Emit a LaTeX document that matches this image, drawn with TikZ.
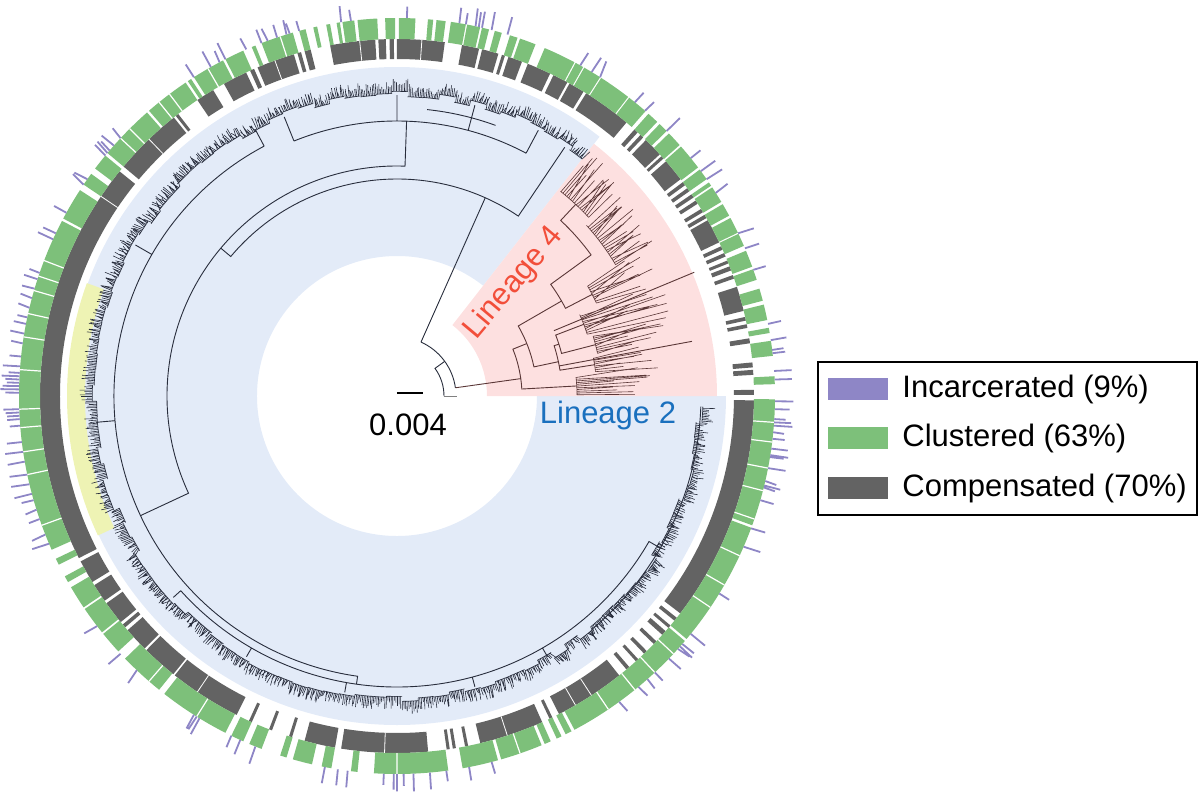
\documentclass[tikz,border=0pt]{standalone}
\usepackage{fontspec}
\setmainfont{Liberation Sans}
\definecolor{lintwo}{RGB}{227,235,248}
\definecolor{linfour}{RGB}{253,224,224}
\definecolor{yelband}{RGB}{238,243,180}
\definecolor{compgrey}{RGB}{99,99,99}
\definecolor{clustgreen}{RGB}{125,192,122}
\definecolor{incpurple}{RGB}{142,134,198}
\definecolor{labfour}{RGB}{242,78,58}
\definecolor{labtwo}{RGB}{26,112,190}
\definecolor{treeink}{RGB}{40,45,60}
\definecolor{fourink}{RGB}{90,55,55}
% annular sector as a path piece: start angle, end angle, inner r, outer r
\newcommand{\segpath}[4]{(#1:#3) arc[start angle=#1,end angle=#2,radius=#3]
    -- (#2:#4) arc[start angle=#2,end angle=#1,radius=#4] -- cycle}
\tikzset{
  branch/.style={treeink,line width=0.45pt},
  leaf/.style={treeink,line width=0.3pt},
  fourbranch/.style={fourink,line width=0.45pt},
  fourleaf/.style={fourink,line width=0.3pt},
  tick/.style={incpurple,line width=0.9pt},
  lbl/.style={font=\fontsize{15.5}{18}\selectfont,inner sep=0pt},
  swatch/.style={minimum width=30pt,minimum height=11pt,inner sep=0pt}
}
\begin{document}
\begin{tikzpicture}[x=0.5pt,y=0.5pt]
  \useasboundingbox (-397,-398) rectangle (803,396);
  % backgrounds of the two lineages
  \fill[lintwo] \segpath{52}{360}{140}{329};
  \fill[linfour] \segpath{0}{52}{90}{320};
  \fill[yelband] \segpath{160}{205}{312}{330};
  % root
  \draw[branch] (0:47) arc[start angle=0,end angle=36,radius=47] -- (36:59);
  \draw[gray,line width=0.45pt] (0:47) -- (0:60);
  \draw[branch] (8:59) arc[start angle=8,end angle=66,radius=59];
  % lineage 2 backbone
  \draw[branch] (66:59) -- (66:217);
  \draw[branch] (56:300) -- (56:217) arc[start angle=56,end angle=140,radius=217]
    -- (140:230);
  \draw[branch] (88:275) -- (88:230) arc[start angle=88,end angle=205,radius=230]
    -- (205:283);
  \draw[branch] (62:275) arc[start angle=62,end angle=112,radius=275]
    \foreach \a in {62,75,90,112}{ (\a:275) -- (\a:301) };
  \draw[branch] (70:288) arc[start angle=70,end angle=84,radius=288];
  \draw[branch] (118:283) arc[start angle=118,end angle=262,radius=283] -- (262:291)
    \foreach \a in {118,150,185}{ (\a:283) -- (\a:302) };
  \draw[branch] (222:291) arc[start angle=222,end angle=330,radius=291] -- (330:304)
    \foreach \a in {222,240,260,285,300}{ (\a:291) -- (\a:301) };
  \draw[branch] (310:304) arc[start angle=310,end angle=358,radius=304];
  % lineage 2 tips
  \pgfmathsetseed{42}
  \foreach \lo in {52,55,...,357}{
    \pgfmathsetmacro\rb{299+7*rnd}
    \pgfmathsetmacro\hi{\lo+3}
    \pgfmathsetmacro\nx{\lo+0.3}
    \draw[leaf] (\lo:\rb) arc[start angle=\lo,end angle=\hi,radius=\rb]
      \foreach \a in {\lo,\nx,...,\hi}{ (\a:\rb) -- (\a:{\rb+4+9*rnd}) };
  }
  % lineage 4
  \draw[fourbranch] (8:59) -- (8:125);
  \draw[fourbranch] (3.2:180) -- (3.2:125) arc[start angle=3.2,end angle=22,radius=125]
    -- (22:140);
  \draw[fourbranch] (12:165) -- (12:140) arc[start angle=12,end angle=30,radius=140]
    -- (30:190);
  \draw[fourbranch] (9:200) -- (9:165) arc[start angle=9,end angle=17.75,radius=165]
    -- (17.75:170);
  \draw[fourbranch] (14.5:205) -- (14.5:170) arc[start angle=14.5,end angle=21,radius=170]
    -- (21:200);
  \draw[fourbranch] (27.5:220) -- (27.5:190) arc[start angle=27.5,end angle=36,radius=190]
    -- (36:240);
  \draw[fourbranch] (36:240) arc[start angle=36,end angle=47,radius=240] -- (47:262);
  \draw[fourbranch] (10.5:165) -- (10.5:300) (22.6:170) -- (22.6:322);
  \foreach \lo/\hi/\rb/\rmin/\rmax in {0.4/6/180/215/275, 7/11/200/225/265,
      12/17/205/235/280, 18/24/200/240/290, 25/30/220/250/295, 31/42/255/280/305,
      43/51.4/262/290/312}{
    \pgfmathsetmacro\nx{\lo+0.55}
    \draw[fourleaf] (\lo:\rb) arc[start angle=\lo,end angle=\hi,radius=\rb]
      \foreach \a in {\lo,\nx,...,\hi}{ (\a:\rb) -- (\a:{\rmin+(\rmax-\rmin)*rnd}) };
  }
  % compensated ring
  \fill[compgrey] \foreach \a/\b in {0.2/1, 3.4/4.2, 4.6/5.4, 8.5/9.3, 11/11.6,
      12.2/12.8, 13.8/17.8, 19.2/19.8, 20.6/21.3, 21.8/22.3, 23/23.6, 24.2/24.8,
      25.5/29.5, 29.9/30.5, 31/31.6, 32.6/33.2, 33.8/34.4, 35/35.6, 36.2/36.8,
      37.4/41.1, 41.7/42.2, 42.6/45.8, 46.4/47, 47.6/48.3, 50/58, 58.5/61.1,
      61.5/64, 64.6/68.5, 69.5/71.8, 72.4/72.9, 73.5/76.2, 76.7/79.5, 82.3/90,
      90.5/91.2, 91.8/93, 93.5/100.8, 104/105, 105.6/106.2, 106.8/113,
      113.6/114.3, 115/119, 121/124, 127.8/128.3, 128.7/140, 141/207,
      207.6/211.4, 212/215, 215.5/219.3, 219.8/220.4, 221/225, 225.4/231.2,
      231.5/243.3, 245.5/246, 249/249.5, 252.4/252.9, 255/260, 261/275,
      278/278.5, 279/279.5, 281/281.5, 283.5/294, 295.3/295.8, 297/308.5,
      310/310.6, 312/312.5, 313.8/314.4, 316/316.6, 318/318.8, 319.5/320,
      321/321.6, 322.5/359.3}{ \segpath{\a}{\b}{337}{357} };
  % clustered ring
  \fill[clustgreen] \foreach \a/\b in {1.8/3, 6.1/8.4, 9.6/10.4, 11.6/14,
      14.6/16.5, 17.9/19.6, 20/22.6, 23.4/25.4, 25.6/28.1, 28.5/30.5, 30.9/33.5,
      33.8/34.4, 35/36.8, 37.2/41.3, 41.6/44, 44.5/46, 46.5/48.3, 48.9/52.1,
      52.3/57.3, 57.5/60.3, 60.5/61.8, 62/67, 68.5/71, 71.4/72.6, 73.9/75,
      75.9/77, 77.3/79.3, 79.5/81.8, 82.6/84, 84.5/85.3, 87.2/89.7, 90.3/91.8,
      93/96, 96.5/98.3, 98.7/99.2, 100.2/100.8, 102.2/102.8, 104/105, 106/111,
      112/112.6, 114/117, 117.4/122.5, 123/123.6, 124/131, 131.4/140,
      140.5/143, 144/146, 147/152, 152.4/204, 205.5/206.5, 208.5/209.5,
      210.4/214, 214.3/218.7, 219/222.5, 224/231, 232/243, 244/246, 247/249,
      252/253, 254/257, 258.5/260, 263/264, 266.5/277.8, 280/285.5, 286/292.5,
      293/294, 295/295.8, 296.5/297.5, 298/319.6, 320/339.6, 340/359.5}
    { \segpath{\a}{\b}{357}{378} };
  \draw[white,line width=0.6pt] \foreach \a in {108,120,127,129,135,137,159,161.5,
      163.8,167.4,171,176,182,184.8,188.5,192,200,229,238,270,289,304,309,313,
      317,326,330,335,341,345.5,349,353,356}{ (\a:357) -- (\a:378) };
  \draw[white,line width=0.4pt] \foreach \a in {86,96,110,134,146,236,268,288,
      300,303}{ (\a:337) -- (\a:357) };
  % incarcerated ticks
  \pgfmathsetseed{7}
  \draw[tick] \foreach \a in {7,8.5,11,19.5,23,25.5,32.5,35,36.5,39,44.5,49,51,
      57.5,59,61,73,75.5,77,77.5,78,79.5,80.5,88.5,97,98.5,105,106.5,107,108.5,
      110,111,113.5,117,118,119.5,122.5,137,138.5,139.5,140,140.5,145,146,151,
      154.5,155.5,161,162,163.5,165,166.5,168,169,170.5,172,174,175.5,176.5,177,
      177.5,178,178.5,179,179.5,182,182.5,183,183.5,184.5,187,188.5,190,192,
      193.5,195,196,197.5,199,201.5,203,217.5,223,226.5,237.5,238,238.5,244,
      245.5,248,259,261,262.5,268,269.5,270,271,272.5,275,277.5,281,284.5,306,
      309.7,311.5,313,316,318,318.5,319,321,328.5,336.5,339.5,344,346,346.3,347,
      349,350.7,351,352,353.5,354.5,355.5,356,356.5,358,359.2,2.5,3.8,6.5}
    { (\a:378) -- (\a:{388+9*rnd}) };
  % labels
  \node[lbl,text=labfour,rotate=50] (linfourlbl) at (117,113) {Lineage 4};
  \node[lbl,text=labtwo] (lintwolbl) at (211,-19) {Lineage 2};
  \coordinate (barl) at (0,3);
  \coordinate (barr) at (26,3);
  \draw[line width=1pt] (barl) -- (barr);
  \node[lbl] (barlbl) at (11,-29) {0.004};
  % legend
  \draw[line width=0.6pt] (421,34) rectangle (800,-119);
  \node[swatch,fill=incpurple] (swinc) at (461,7) {};
  \node[swatch,fill=clustgreen] (swclu) at (461,-42) {};
  \node[swatch,fill=compgrey] (swcom) at (461,-92) {};
  \node[lbl,anchor=west] (txinc) at (505,7) {Incarcerated (9\%)};
  \node[lbl,anchor=west] (txclu) at (505,-42) {Clustered (63\%)};
  \node[lbl,anchor=west] (txcom) at (505,-92) {Compensated (70\%)};
\end{tikzpicture}
\end{document}
